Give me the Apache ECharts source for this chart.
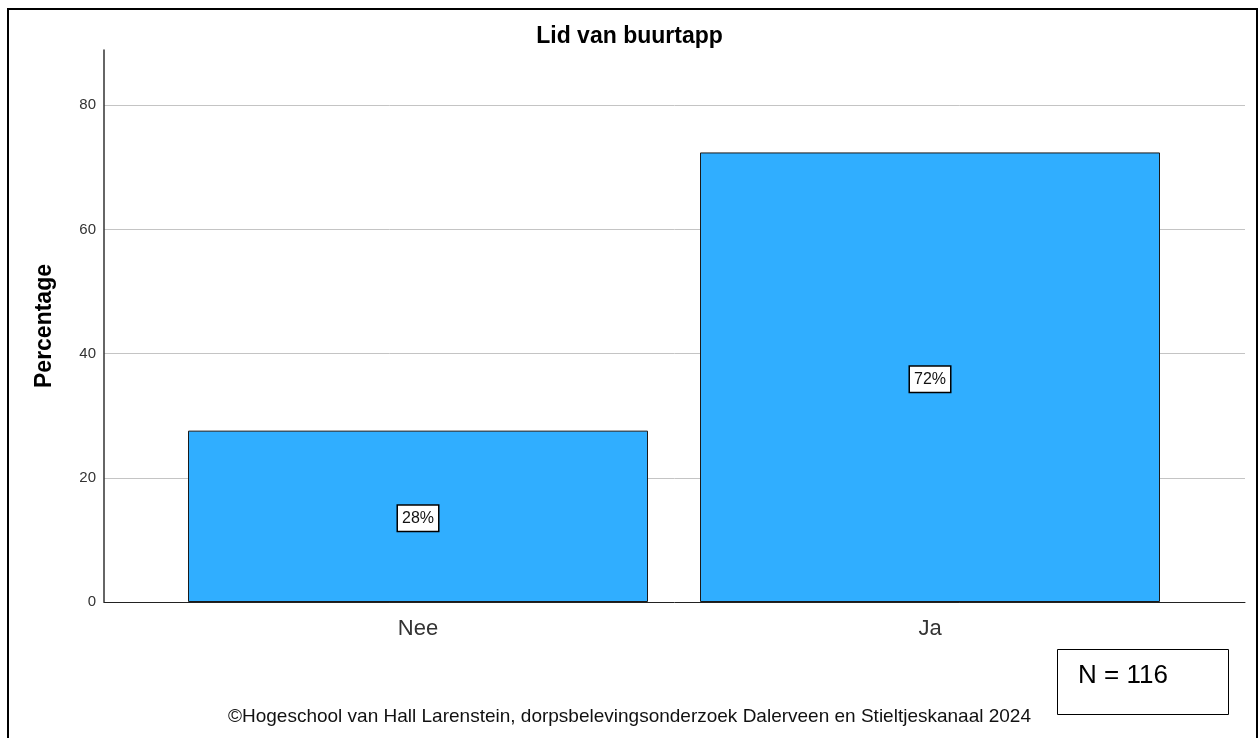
<!DOCTYPE html>
<html>
<head>
<meta charset="utf-8">
<script src="https://cdn.jsdelivr.net/npm/echarts@6/dist/echarts.min.js"></script>
<style>
html,body{margin:0;padding:0;background:#fff;}
#chart{width:1259px;height:738px;}
</style>
</head>
<body>
<div id="chart"></div>
<script>
const chartTitle = 'Lid van buurtapp';
const categories = ['Nee', 'Ja'];
const percentages = [27.6, 72.4];
const yAxisName = 'Percentage';
const yMin = 0;
const yMax = 88.9;
const yInterval = 20;
const sampleSize = 'N = 116';
const footerText = '\u00A9Hogeschool van Hall Larenstein, dorpsbelevingsonderzoek Dalerveen en Stieltjeskanaal 2024';

const FONT = '"Liberation Sans", Arial, sans-serif';
const chart = echarts.init(document.getElementById('chart'));

chart.setOption({
  backgroundColor: '#ffffff',
  animation: false,
  title: [
    {
      text: chartTitle,
      left: 'center',
      top: 20,
      textStyle: { fontFamily: FONT, fontSize: 23, fontWeight: 'bold', color: '#000' }
    },
    {
      text: footerText,
      left: 'center',
      top: 707,
      padding: 0,
      textStyle: { fontFamily: FONT, fontSize: 19, fontWeight: 'normal', color: '#111' }
    },
    {
      text: sampleSize,
      left: 1057,
      top: 649,
      padding: [14, 61, 26, 21],
      borderColor: '#000',
      borderWidth: 1,
      textStyle: { fontFamily: FONT, fontSize: 26, fontWeight: 'normal', color: '#000', lineHeight: 26 }
    }
  ],
  graphic: [
    {
      type: 'rect',
      silent: true,
      shape: { x: 8, y: 9, width: 1249, height: 800 },
      style: { fill: 'none', stroke: '#000', lineWidth: 2 }
    }
  ],
  grid: [
    { left: 162, width: 1024, top: 50, bottom: 136 },
    { left: 104, right: 14, top: 50, bottom: 136 }
  ],
  xAxis: [
    {
      type: 'category',
      gridIndex: 0,
      data: categories,
      axisLine: { show: false },
      axisTick: { show: false },
      axisLabel: { fontFamily: FONT, fontSize: 22, color: '#333', margin: 16 }
    },
    {
      type: 'value',
      gridIndex: 1,
      min: 0,
      max: 1,
      axisLine: { show: true, onZero: false, lineStyle: { color: '#222', width: 1 } },
      axisTick: { show: false },
      axisLabel: { show: false },
      splitLine: { show: false }
    }
  ],
  yAxis: [
    {
      type: 'value',
      gridIndex: 0,
      min: yMin,
      max: yMax,
      interval: yInterval,
      show: false,
      splitLine: { show: false }
    },
    {
      type: 'value',
      gridIndex: 1,
      min: yMin,
      max: yMax,
      interval: yInterval,
      name: yAxisName,
      nameLocation: 'middle',
      nameRotate: 90,
      nameGap: 48,
      nameTextStyle: { fontFamily: FONT, fontSize: 23, fontWeight: 'bold', color: '#000' },
      axisLine: { show: true, lineStyle: { color: '#333', width: 1.5 } },
      axisTick: { show: false },
      axisLabel: {
        fontFamily: FONT, fontSize: 15, color: '#333', margin: 8,
        formatter: v => (v % yInterval === 0 ? String(v) : '')
      },
      splitLine: {
        show: true,
        lineStyle: { color: ['transparent', '#c4c4c4', '#c4c4c4', '#c4c4c4', '#c4c4c4', 'transparent'], width: 1 }
      }
    }
  ],
  series: [
    {
      type: 'bar',
      xAxisIndex: 0,
      yAxisIndex: 0,
      data: percentages,
      barWidth: 460,
      itemStyle: { color: '#30aeff', borderColor: '#1a1a1a', borderWidth: 1 },
      label: {
        show: true,
        position: 'inside',
        offset: [0, 2],
        formatter: p => Math.round(p.value) + '%',
        fontFamily: FONT,
        fontSize: 16,
        color: '#111',
        backgroundColor: '#fff',
        borderColor: '#000',
        borderWidth: 1.5,
        padding: [5, 4, 4, 4]
      }
    }
  ]
});
</script>
</body>
</html>
